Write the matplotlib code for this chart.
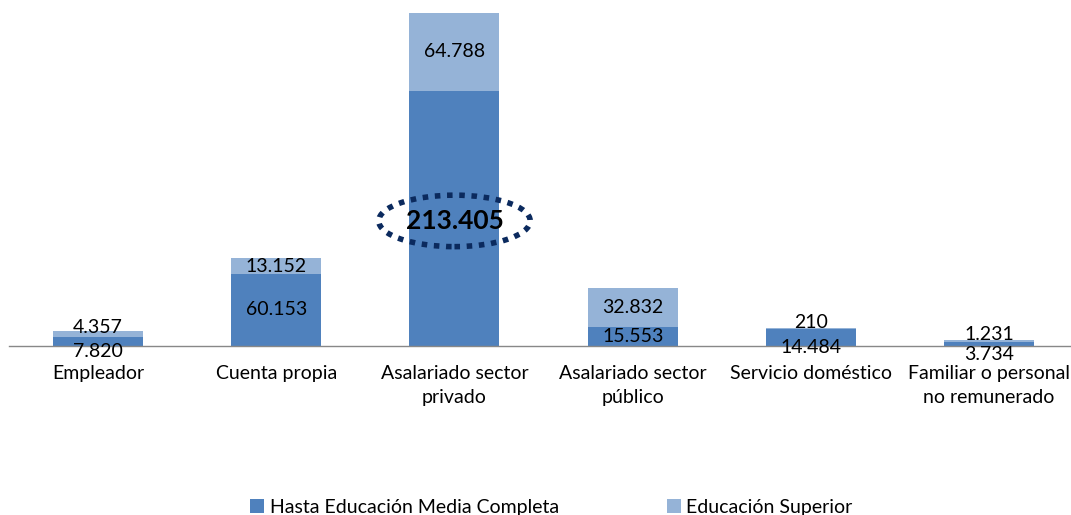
import matplotlib
matplotlib.use("Agg")
import matplotlib.pyplot as plt
from matplotlib.patches import Ellipse
import numpy as np

categories = ["Empleador", "Cuenta propia", "Asalariado sector\nprivado",
              "Asalariado sector\npúblico", "Servicio doméstico",
              "Familiar o personal\nno remunerado"]
media = [7820, 60153, 213405, 15553, 14484, 3734]
superior = [4357, 13152, 64788, 32832, 210, 1231]
series_names = ["Hasta Educación Media Completa", "Educación Superior"]

c_media = "#4F81BD"
c_sup = "#95B3D7"

plt.rcParams['font.family'] = ['Lato', 'DejaVu Sans']

def fmt(v):
    return f"{v:,}".replace(",", ".")

FS = 14
fig = plt.figure(figsize=(10.71, 5.15), dpi=100)
ax = fig.add_axes([9/1071, (515-346)/515, 1062/1071, 333/515])
x = np.arange(len(categories))
w = 0.505
ax.bar(x, media, w, color=c_media, label=series_names[0], zorder=2)
ax.bar(x, superior, w, bottom=media, color=c_sup, label=series_names[1], zorder=2)

ymax = max(m + s for m, s in zip(media, superior))
ax.set_xlim(-0.5, 5.46)
ax.set_ylim(0, ymax)

for i, (m, s) in enumerate(zip(media, superior)):
    tot = m + s
    small = tot < 20000
    if i == 2:
        ax.annotate(fmt(m), (i, m / 2), xytext=(0, -2), textcoords='offset points',
                    ha='center', va='center', fontsize=19, fontweight='bold',
                    color='black', zorder=4)
        ax.add_patch(Ellipse((i, m / 2 - 2200), 0.85, 43000, fill=False,
                             edgecolor="#0B2A5E", linestyle=(0, (1, 1.2)),
                             linewidth=4, zorder=5))
    elif small:
        ax.annotate(fmt(m), (i, m / 2), xytext=(0, -7.5), textcoords='offset points',
                    ha='center', va='center', fontsize=FS, zorder=4)
    else:
        ax.text(i, m / 2, fmt(m), ha='center', va='center', fontsize=FS, zorder=4)
    if small:
        ax.annotate(fmt(s), (i, m + s / 2), xytext=(0, 4.5), textcoords='offset points',
                    ha='center', va='center', fontsize=FS, zorder=4)
    else:
        ax.text(i, m + s / 2, fmt(s), ha='center', va='center', fontsize=FS, zorder=4)

for sp in ['top', 'right', 'left']:
    ax.spines[sp].set_visible(False)
ax.spines['bottom'].set_color('#888888')
ax.spines['bottom'].set_linewidth(1)
ax.set_yticks([])
ax.set_xticks(x)
ax.set_xticklabels(categories, fontsize=FS, linespacing=1.45)
ax.tick_params(axis='x', length=0, pad=14)

leg = fig.legend(loc='lower center', bbox_to_anchor=(0.515, -0.036), ncol=2, frameon=False,
                 fontsize=FS, handlelength=0.7, handleheight=0.7, handletextpad=0.3,
                 columnspacing=5.55)

fig.savefig("out.png", dpi=100)
